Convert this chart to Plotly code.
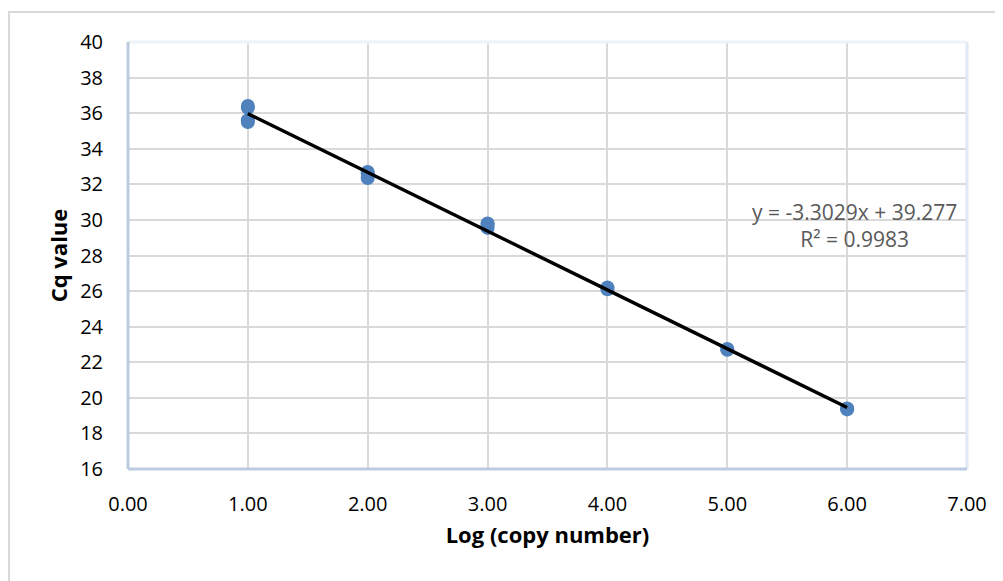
import plotly.graph_objects as go

# Data (replicates per dilution)
log_copy = [1, 1, 1, 1, 2, 2, 2, 3, 3, 3, 4, 4, 5, 5, 6, 6]
cq_values = [36.4, 36.3, 35.6, 35.5, 32.7, 32.6, 32.35, 29.8, 29.7, 29.55, 26.2, 26.1, 22.75, 22.7, 19.4, 19.35]
slope = -3.3029
intercept = 39.277
r_squared = 0.9983
x_ticks = [0, 1, 2, 3, 4, 5, 6, 7]
y_ticks = [16, 18, 20, 22, 24, 26, 28, 30, 32, 34, 36, 38, 40]

FONT = "Open Sans"
OFF = 8  # default body margin of the page
W, H = 995, 573
ML, MR, MT, MB = 120, 36, 34, 112
pw, ph = W - ML - MR, H - MT - MB

def px_x(p):
    # page pixel -> paper fraction
    return (p - OFF - ML) / pw

def px_y(p):
    return (OFF + H - MB - p) / ph

fig = go.Figure()

xs = [min(log_copy), max(log_copy)]
fig.add_trace(go.Scatter(
    x=log_copy, y=cq_values, mode="markers",
    marker=dict(size=14, color="#4f81bd"),
    showlegend=False, hoverinfo="x+y",
))
fig.add_trace(go.Scatter(
    x=xs, y=[slope * v + intercept for v in xs], mode="lines",
    line=dict(color="black", width=3.5),
    showlegend=False,
))

fig.add_annotation(
    x=6.06, y=29.7, xref="x", yref="y",
    text=f"y = {slope}x + {intercept}<br>R² = {r_squared}",
    showarrow=False, align="center",
    font=dict(family=FONT, size=21, color="#595959"),
)

shapes = [
    # outer chart border
    dict(type="rect", xref="paper", yref="paper",
         x0=px_x(9), x1=px_x(1030), y0=px_y(640), y1=px_y(12),
         line=dict(color="#d9d9d9", width=2), layer="below"),
    # plot area frame (right/top light)
    dict(type="line", xref="paper", yref="paper", x0=1, x1=1, y0=0, y1=1,
         line=dict(color="#dfe8f3", width=3)),
    dict(type="line", xref="paper", yref="paper", x0=0, x1=1, y0=1, y1=1,
         line=dict(color="#eef3f9", width=3)),
    # left/bottom darker
    dict(type="line", xref="paper", yref="paper", x0=0, x1=0, y0=0, y1=1,
         line=dict(color="#bccbe0", width=3)),
    dict(type="line", xref="paper", yref="paper", x0=0, x1=1, y0=0, y1=0,
         line=dict(color="#bccbe0", width=3)),
]

fig.update_layout(
    width=W, height=H,
    margin=dict(l=ML, r=MR, t=MT, b=MB),
    paper_bgcolor="white", plot_bgcolor="white",
    font=dict(family=FONT, size=20, color="black"),
    shapes=shapes,
    xaxis=dict(
        range=[0, 7], tickvals=x_ticks, ticktext=[f"{v:.2f}" for v in x_ticks],
        showgrid=True, gridcolor="#d9d9d9", gridwidth=2,
        zeroline=False, showline=False,
        ticks="outside", ticklen=17, tickcolor="rgba(0,0,0,0)",
        title=dict(text="<b>Log (copy number)</b>", font=dict(family=FONT, size=22), standoff=11),
    ),
    yaxis=dict(
        range=[16, 40], tickvals=y_ticks,
        showgrid=True, gridcolor="#d9d9d9", gridwidth=2,
        zeroline=False, showline=False,
        ticks="outside", ticklen=20, tickcolor="rgba(0,0,0,0)",
        title=dict(text="<b>Cq value</b>", font=dict(family=FONT, size=22), standoff=6),
    ),
)

fig.write_html("out.html")
